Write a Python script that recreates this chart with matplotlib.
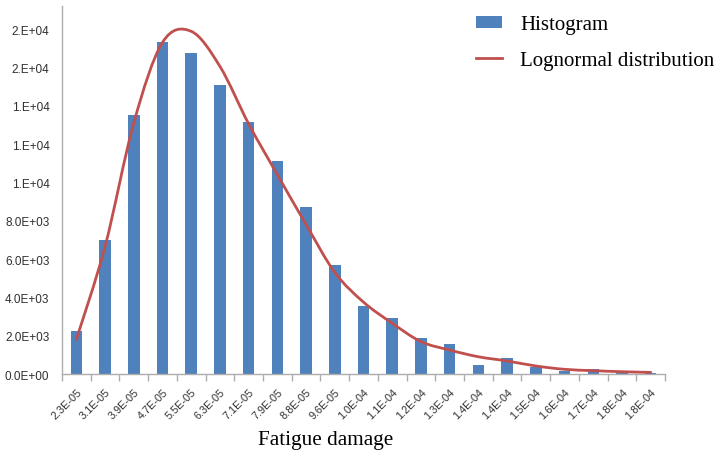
import numpy as np
import matplotlib
matplotlib.use("Agg")
import matplotlib.pyplot as plt
from matplotlib.path import Path
from matplotlib.patches import PathPatch, Patch
from matplotlib.lines import Line2D

# bins of fatigue damage (category labels as printed by Excel)
damage_labels = ['2.3E-05', '3.1E-05', '3.9E-05', '4.7E-05', '5.5E-05', '6.3E-05',
                 '7.1E-05', '7.9E-05', '8.8E-05', '9.6E-05', '1.0E-04', '1.1E-04',
                 '1.2E-04', '1.3E-04', '1.4E-04', '1.4E-04', '1.5E-04', '1.6E-04',
                 '1.7E-04', '1.8E-04', '1.8E-04']

# histogram counts
hist_counts = [2250, 7000, 13500, 17300, 16750, 15100, 13150, 11100, 8700, 5700,
               3550, 2900, 1900, 1570, 480, 840, 380, 180, 260, 60, 70]

# lognormal fit, value at each bin centre
lognormal_fit = [1800, 6650, 13100, 17300, 17880, 16050, 13050, 10400, 7800, 5300,
                 3750, 2650, 1690, 1250, 900, 680, 420, 245, 175, 120, 85]

y_ticks = [0, 2000, 4000, 6000, 8000, 10000, 12000, 14000, 16000, 18000]
y_tick_labels = ['0.0E+00', '2.0E+03', '4.0E+03', '6.0E+03', '8.0E+03',
                 '1.E+04', '1.E+04', '1.E+04', '2.E+04', '2.E+04']

bar_color = '#4F81BD'
line_color = '#C0504D'
axis_color = '#ADADAD'
text_color = '#303030'

fig = plt.figure(figsize=(7.24, 4.56), dpi=100)
ax = fig.add_axes([0.0856, 0.1776, 0.833, 0.807])

x = np.arange(len(damage_labels))
ax.bar(x, hist_counts, width=0.4, color=bar_color, zorder=2)


# smoothed line like Excel does it (Catmull-Rom -> cubic bezier)
def smooth_path(xs, ys):
    pts = np.column_stack([xs, ys]).astype(float)
    verts = [pts[0]]
    codes = [Path.MOVETO]
    n = len(pts)
    for i in range(n - 1):
        p0 = pts[max(i - 1, 0)]
        p1 = pts[i]
        p2 = pts[i + 1]
        p3 = pts[min(i + 2, n - 1)]
        c1 = p1 + (p2 - p0) / 6.0
        c2 = p2 - (p3 - p1) / 6.0
        verts += [c1, c2, p2]
        codes += [Path.CURVE4] * 3
    return Path(verts, codes)


curve = PathPatch(smooth_path(x, lognormal_fit), fill=False, edgecolor=line_color,
                  linewidth=2.0, capstyle='round', zorder=3)
ax.add_patch(curve)

ax.set_xlim(-0.5, len(damage_labels) - 0.5)
ax.set_ylim(0, 19200)

ax.set_yticks(y_ticks)
ax.set_yticklabels(y_tick_labels, fontsize=8.5, color=text_color, family='Liberation Sans')
ax.tick_params(axis='y', length=0, pad=9)

ax.set_xticks(x)
ax.set_xticklabels(damage_labels, rotation=45, ha='right', va='top',
                   rotation_mode='anchor', fontsize=7.8, color=text_color,
                   family='Liberation Sans')
ax.tick_params(axis='x', which='major', length=0, pad=9)
ax.set_xticks(np.arange(-0.5, len(damage_labels)), minor=True)
ax.tick_params(axis='x', which='minor', length=5, color=axis_color, width=1)

for side in ['top', 'right']:
    ax.spines[side].set_visible(False)
for side in ['left', 'bottom']:
    ax.spines[side].set_color(axis_color)
    ax.spines[side].set_linewidth(1)

fig.text(0.4496, 0.033, 'Fatigue damage', ha='center', va='center',
         fontsize=15.3, family='Liberation Serif', color='black')

handles = [Patch(facecolor=bar_color, edgecolor='none'),
           Line2D([], [], color=line_color, linewidth=2.0)]
fig.legend(handles, ['Histogram', 'Lognormal distribution'],
           loc='upper left', bbox_to_anchor=(0.632, 1.005), frameon=False,
           prop={'family': 'Liberation Serif', 'size': 15.0},
           handlelength=1.25, handleheight=0.5, handletextpad=0.85,
           labelspacing=0.8)

fig.savefig('out.png', dpi=100)
